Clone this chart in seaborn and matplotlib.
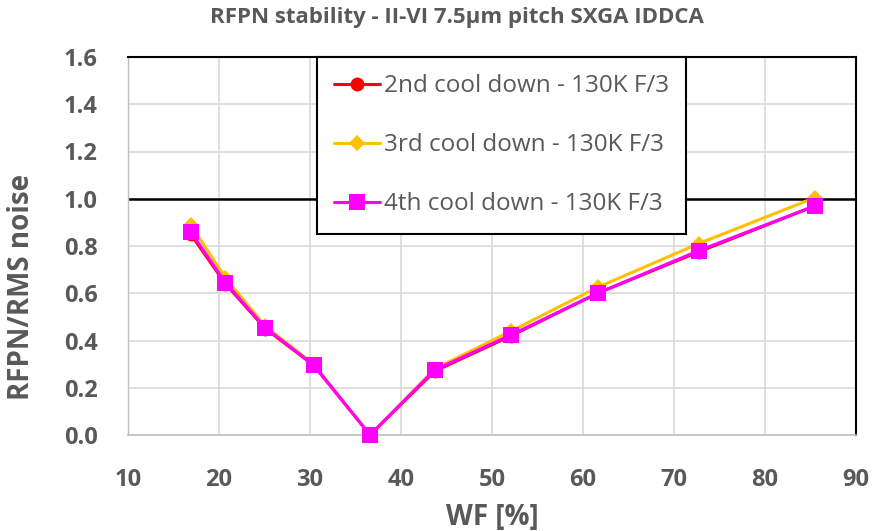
import matplotlib
matplotlib.use("Agg")
import matplotlib.pyplot as plt
import seaborn as sns
import pandas as pd
from matplotlib.lines import Line2D

wf = [16.9, 20.7, 25.1, 30.4, 36.6, 43.7, 52.1, 61.6, 72.7, 85.5]
cd2 = [0.85, 0.64, 0.45, 0.295, 0.0, 0.27, 0.42, 0.60, 0.775, 0.97]
cd3 = [0.89, 0.665, 0.46, 0.30, 0.0, 0.28, 0.44, 0.625, 0.81, 1.005]
cd4 = [0.86, 0.645, 0.453, 0.297, 0.0, 0.275, 0.424, 0.60, 0.78, 0.97]
series_names = ["2nd cool down - 130K F/3", "3rd cool down - 130K F/3", "4th cool down - 130K F/3"]
colors = ["#FF0000", "#FFC000", "#FF00FF"]
markers = ["o", "D", "s"]
xticks = [10, 20, 30, 40, 50, 60, 70, 80, 90]
yticks = [0.0, 0.2, 0.4, 0.6, 0.8, 1.0, 1.2, 1.4, 1.6]

rows = []
for name, vals in zip(series_names, [cd2, cd3, cd4]):
    for x, y in zip(wf, vals):
        rows.append({"WF": x, "val": y, "series": name})
df = pd.DataFrame(rows)

sns.set_style("white")
plt.rcParams["font.family"] = ["Open Sans", "DejaVu Sans"]
gray = "#595959"

fig = plt.figure(figsize=(8.75, 5.31), dpi=100)
ax = fig.add_axes([128/875, 1-435/531, (856-128)/875, (435-57)/531])

sns.lineplot(data=df, x="WF", y="val", hue="series", style="series",
             hue_order=series_names, style_order=series_names,
             palette=colors, markers=dict(zip(series_names, markers)),
             dashes=False, linewidth=2.2, markeredgewidth=0, ax=ax, legend=False,
             zorder=3)
sizes = [10, 8, 11.5]
for line, ms in zip(ax.lines, sizes):
    line.set_markersize(ms)
    line.set_clip_on(False)

ax.set_xlim(10, 90)
ax.set_ylim(0, 1.6)
ax.set_xticks(xticks)
ax.set_yticks(yticks)
ax.set_xticklabels([str(t) for t in xticks])
ax.set_yticklabels([f"{t:.1f}" for t in yticks])
ax.grid(True, color="#D9D9D9", linewidth=1.2, zorder=0)
ax.set_axisbelow(True)
ax.tick_params(axis="x", length=0, labelsize=17, labelcolor=gray, pad=24)
ax.tick_params(axis="y", length=0, labelsize=17, labelcolor=gray, pad=22)
for lab in ax.get_xticklabels() + ax.get_yticklabels():
    lab.set_fontweight("bold")

ax.axhline(1.0, color="black", linewidth=1.8, zorder=2)
ax.spines["top"].set_color("black")
ax.spines["top"].set_linewidth(1.5)
ax.spines["right"].set_color("black")
ax.spines["right"].set_linewidth(1.5)
ax.spines["left"].set_color("#BFBFBF")
ax.spines["left"].set_linewidth(1.0)
ax.spines["bottom"].set_color("#BFBFBF")
ax.spines["bottom"].set_linewidth(1.2)

ax.set_xlabel("WF [%]", fontsize=20, fontweight="bold", color=gray)
ax.xaxis.set_label_coords((492-128)/728, -(517-435)/378)
ax.xaxis.label.set_va("center")
ax.set_ylabel("RFPN/RMS noise", fontsize=20, fontweight="bold", color=gray)
ax.yaxis.set_label_coords(-(128-21)/728, (435-287)/378)
ax.yaxis.label.set_va("center")
fig.text(457/875, 1-18/531, "RFPN stability - II-VI 7.5\u00b5m pitch SXGA IDDCA",
         ha="center", va="center", fontsize=16, fontweight="bold", color=gray)

handles = [Line2D([0], [0], color=c, marker=m, markersize=s, markeredgewidth=0, linewidth=2.2)
           for c, m, s in zip(colors, markers, sizes)]
leg = ax.legend(handles, series_names, loc="upper left", bbox_to_anchor=((317-128)/728, 1.0),
                fontsize=17.5, labelcolor=gray, frameon=True, fancybox=False,
                edgecolor="black", framealpha=1, borderpad=0.7, labelspacing=1.45,
                handlelength=1.9, handletextpad=0.15, borderaxespad=0)
leg.get_frame().set_linewidth(1.5)
leg.set_zorder(5)

fig.savefig("out.png", dpi=100)
